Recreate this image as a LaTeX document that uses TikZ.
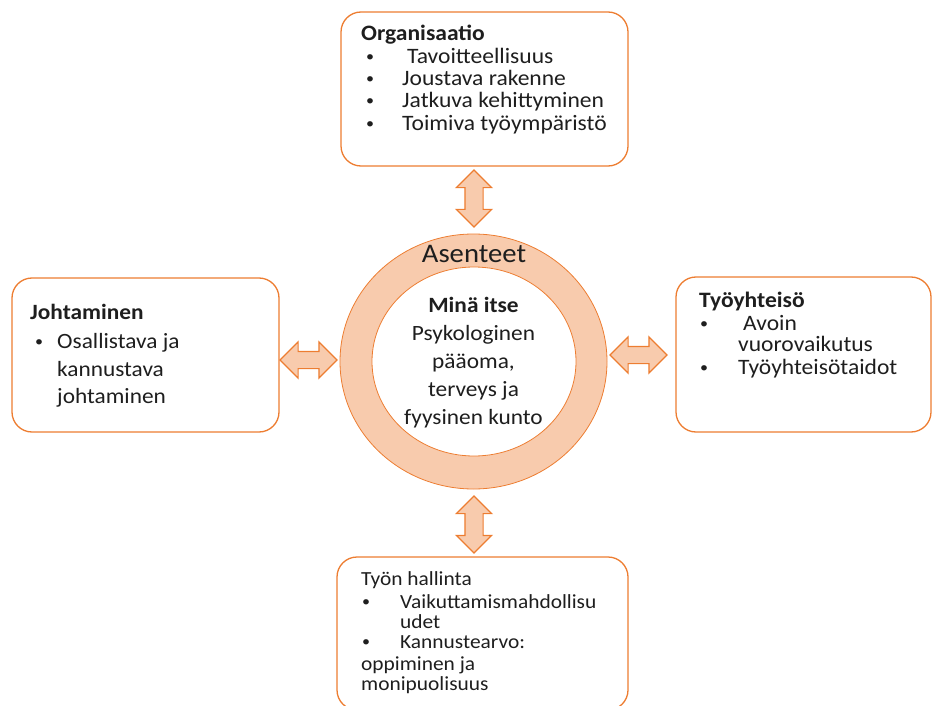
\documentclass[tikz,border=0pt]{standalone}
\usepackage{fontspec}
\setmainfont{Carlito}[FakeStretch=1.07]
\usetikzlibrary{shapes.arrows,shapes.geometric}
\definecolor{accent}{HTML}{ED7D31}
\definecolor{ringfill}{HTML}{F8CBAD}
\definecolor{ink}{HTML}{1E1E1E}
\newcommand{\bul}{\raisebox{2pt}{\fontsize{15}{15}\selectfont •}}
\begin{document}
\begin{tikzpicture}[x=1pt, y=-1pt,
    box/.style={draw=accent, line width=1.3pt, rounded corners=20pt, inner sep=0pt},
    blockarrow/.style={double arrow, draw=accent, fill=ringfill, line width=1.2pt, inner xsep=0pt,
        inner ysep=8.5pt, double arrow head extend=8.5pt, minimum height=57pt},
    txt/.style={anchor=base west, inner sep=0pt, text=ink, font=\fontsize{22}{22}\selectfont},
    txthead/.style={txt, font=\fontsize{22}{22}\selectfont\bfseries},
    small/.style={txt, font=\fontsize{20}{21}\selectfont},
    big/.style={anchor=base west, inner sep=0pt, text=ink, font=\fontsize{21.8}{28}\selectfont},
    bighead/.style={big, font=\fontsize{21.8}{28}\selectfont\bfseries},
    mid/.style={anchor=base, inner sep=0pt, text=ink, font=\fontsize{21.8}{28}\selectfont}]
    \useasboundingbox (0,0) rectangle (932,706);
    \clip (0,0) rectangle (932,706);

    % boxes
    \node (org) [box, minimum width=287pt, minimum height=154pt] at (484.5,89) {};
    \node (lead) [box, minimum width=267pt, minimum height=154pt] at (145.5,355) {};
    \node (comm) [box, minimum width=255pt, minimum height=155pt] at (803.5,354.5) {};
    \node (ctrl) [box, minimum width=291pt, minimum height=153pt] at (482.5,633.5) {};

    % ring
    \node (ring) [ellipse, draw=accent, fill=ringfill, line width=0.8pt, minimum width=267pt, minimum height=255pt] at (473.5,361.5) {};
    \node (core) [ellipse, draw=accent, fill=white, line width=0.8pt, minimum width=204pt, minimum height=189pt] at (474,361.5) {};

    % arrows
    \node (up) [blockarrow, rotate=90] at (474,198.5) {};
    \node (down) [blockarrow, rotate=90] at (474,524.5) {};
    \node (left) [blockarrow, inner ysep=8pt, double arrow head extend=9.5pt] at (308.5,360) {};
    \node (right) [blockarrow, inner ysep=8pt, double arrow head extend=9.5pt] at (638.5,355) {};

    % Organisaatio
    \node (orgT) [txthead] at (361,41) {Organisaatio};
    \node (org1) [txt] at (361,63.3) {\makebox[46pt][l]{\hspace{5pt}\bul}Tavoitteellisuus};
    \node (org2) [txt] at (361,85.6) {\makebox[41pt][l]{\hspace{5pt}\bul}Joustava rakenne};
    \node (org3) [txt] at (361,107.9) {\makebox[41pt][l]{\hspace{5pt}\bul}Jatkuva kehittyminen};
    \node (org4) [txt] at (361,130.2) {\makebox[41pt][l]{\hspace{5pt}\bul}Toimiva työympäristö};

    % Johtaminen
    \node (leadT) [bighead] at (30,319) {Johtaminen};
    \node (lead1) [big] at (30,348) {\makebox[27pt][l]{\hspace{5pt}\bul}Osallistava ja};
    \node (lead2) [big] at (57,376) {kannustava};
    \node (lead3) [big] at (57,403) {johtaminen};

    % Tyoyhteiso
    \node (commT) [txthead] at (699,307) {Työyhteisö};
    \node (comm1) [txt] at (699,330) {\makebox[44pt][l]{\hspace{1pt}\bul}Avoin};
    \node (comm2) [txt] at (738,351) {vuorovaikutus};
    \node (comm3) [txt] at (699,374) {\makebox[39pt][l]{\hspace{1pt}\bul}Työyhteisötaidot};

    % Tyon hallinta
    \node (ctrlT) [small] at (361,585) {Työn hallinta};
    \node (ctrl1) [small] at (361,608) {\makebox[39pt][l]{\hspace{1pt}\bul}Vaikuttamismahdollisu};
    \node (ctrl2) [small] at (400,628) {udet};
    \node (ctrl3) [small] at (361,648) {\makebox[39pt][l]{\hspace{1pt}\bul}Kannustearvo:};
    \node (ctrl4) [small] at (361,670) {oppiminen ja};
    \node (ctrl5) [small] at (361,690) {monipuolisuus};

    % Mina itse
    \node (attT) [mid, font=\fontsize{26.8}{30}\selectfont] at (474,262) {Asenteet};
    \node (selfT) [mid, font=\fontsize{21.8}{28}\selectfont\bfseries] at (473.5,312) {Minä itse};
    \node (self1) [mid] at (473.5,340) {Psykologinen};
    \node (self2) [mid] at (473.5,368) {pääoma,};
    \node (self3) [mid] at (473.5,396) {terveys ja};
    \node (self4) [mid] at (473.5,424) {fyysinen kunto};
\end{tikzpicture}
\end{document}
